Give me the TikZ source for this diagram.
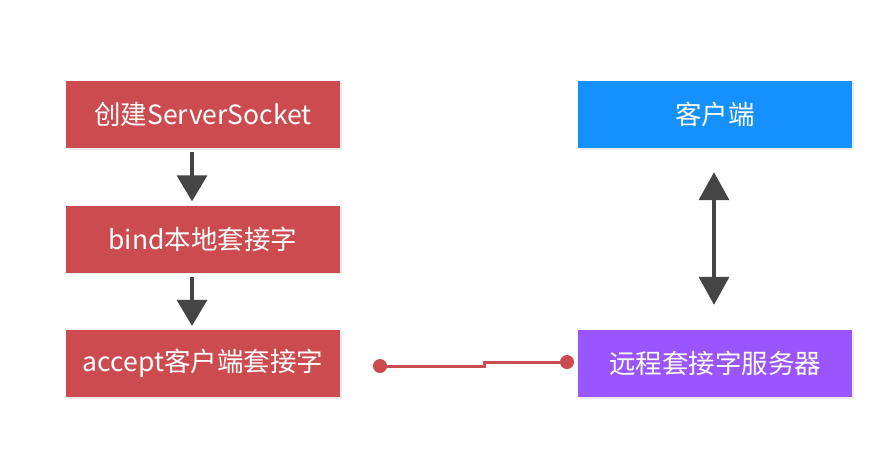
\documentclass[tikz,border=0pt]{standalone}
\usepackage{fontspec}
\setmainfont{Noto Sans CJK SC}
\usetikzlibrary{arrows.meta,shadows}
\definecolor{boxred}{HTML}{CC4B4F}
\definecolor{boxblue}{HTML}{1591FF}
\definecolor{boxpurple}{HTML}{9B55FF}
\definecolor{arrowgray}{HTML}{454545}
\begin{document}
\begin{tikzpicture}[x=1pt,y=-1pt,
  box/.style={minimum width=274pt,minimum height=67pt,inner sep=0pt,
    text=white,font=\fontsize{26.5}{30}\selectfont,
    drop shadow={shadow xshift=1.5pt,shadow yshift=-1.5pt,opacity=0.15}},
  flow/.style={draw=arrowgray,line width=3.5pt,
    -{Triangle[width=30pt,length=26pt]}},
  both/.style={draw=arrowgray,line width=3.5pt,
    {Triangle[width=30pt,length=28pt]}-{Triangle[width=30pt,length=28pt]}},
  link/.style={draw=boxred,line width=3pt},
  dot/.style={circle,fill=boxred,inner sep=0pt,minimum size=14pt}]
\useasboundingbox (0,0) rectangle (891,475);
\fill[white] (0,0) rectangle (891,475);
\node[box,fill=boxred] (create) at (203,114.5) {创建ServerSocket};
\node[box,fill=boxred] (bind) at (203,239) {bind本地套接字};
\node[box,fill=boxred] (accept) at (203,363.5) {accept客户端套接字};
\node[box,fill=boxblue] (client) at (715,114.5) {客户端};
\node[box,fill=boxpurple] (server) at (715,363.5) {远程套接字服务器};
% vertical flow arrows sit a little left of the box centres
\draw[flow] ([xshift=-11pt,yshift=-4pt]create.south) -- ([xshift=-11pt,yshift=4pt]bind.north);
\draw[flow] ([xshift=-11pt,yshift=-4pt]bind.south) -- ([xshift=-11pt,yshift=4pt]accept.north);
\draw[both] ([xshift=-1pt,yshift=-24pt]client.south) -- ([xshift=-1pt,yshift=25pt]server.north);
\node[dot] (d1) at (380,366) {};
\node[dot] (d2) at (567,362) {};
\coordinate (s1) at (484,366);
\coordinate (s2) at (484,362);
\draw[link] (d1.center) -- (s1) -- (s2) -- (d2.center);
\end{tikzpicture}
\end{document}
